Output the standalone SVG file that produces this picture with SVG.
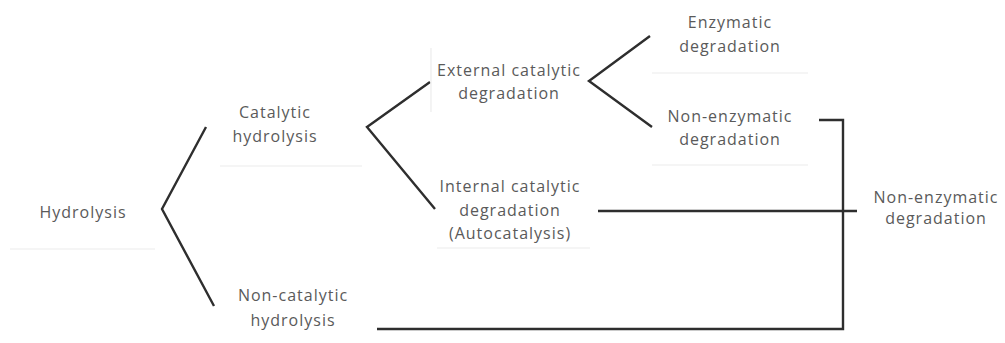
<svg xmlns="http://www.w3.org/2000/svg" width="1005" height="343" viewBox="0 0 1005 343">
<style>
.t{font-family:"Open Sans","Liberation Sans",sans-serif;font-size:16px;fill:#5a5a5a;text-anchor:middle;letter-spacing:1px}
.c{fill:none;stroke:#2e2e2e;stroke-width:2.4;stroke-linejoin:miter}
.e{stroke:#ececec;stroke-width:1.2;fill:none}
</style>
<rect width="1005" height="343" fill="#ffffff"/>
<g id="connectors">
<polyline class="c" points="206,127 162,209 214,306"/>
<polyline class="c" points="430,82 367,127 435,209"/>
<polyline class="c" points="650,36 589,81 652,127"/>
<polyline class="c" points="819,120 843,120 843,329 377,329"/>
<line class="c" x1="598" y1="211" x2="857" y2="211"/>
</g>
<g id="n-hydrolysis">
<line class="e" x1="10" y1="249" x2="155" y2="249"/>
<text class="t" x="83" y="218">Hydrolysis</text>
</g>
<g id="n-catalytic">
<line class="e" x1="220" y1="166" x2="362" y2="166"/>
<text class="t" x="275" y="118">Catalytic</text>
<text class="t" x="275" y="142">hydrolysis</text>
</g>
<g id="n-external">
<line class="e" x1="431" y1="48" x2="431" y2="112"/>
<text class="t" x="509" y="76">External catalytic</text>
<text class="t" x="509" y="99">degradation</text>
</g>
<g id="n-enzymatic">
<line class="e" x1="652" y1="73" x2="808" y2="73"/>
<text class="t" x="730" y="28">Enzymatic</text>
<text class="t" x="730" y="52">degradation</text>
</g>
<g id="n-nonenzymatic">
<line class="e" x1="652" y1="165" x2="808" y2="165"/>
<text class="t" x="730" y="122">Non-enzymatic</text>
<text class="t" x="730" y="145">degradation</text>
</g>
<g id="n-internal">
<line class="e" x1="437" y1="248" x2="590" y2="248"/>
<text class="t" x="510" y="192">Internal catalytic</text>
<text class="t" x="510" y="216">degradation</text>
<text class="t" x="510" y="239">(Autocatalysis)</text>
</g>
<g id="n-noncatalytic">
<text class="t" x="293" y="301">Non-catalytic</text>
<text class="t" x="293" y="326">hydrolysis</text>
</g>
<g id="n-nonenzymatic-result">
<text class="t" x="936" y="203">Non-enzymatic</text>
<text class="t" x="936" y="224">degradation</text>
</g>
</svg>
